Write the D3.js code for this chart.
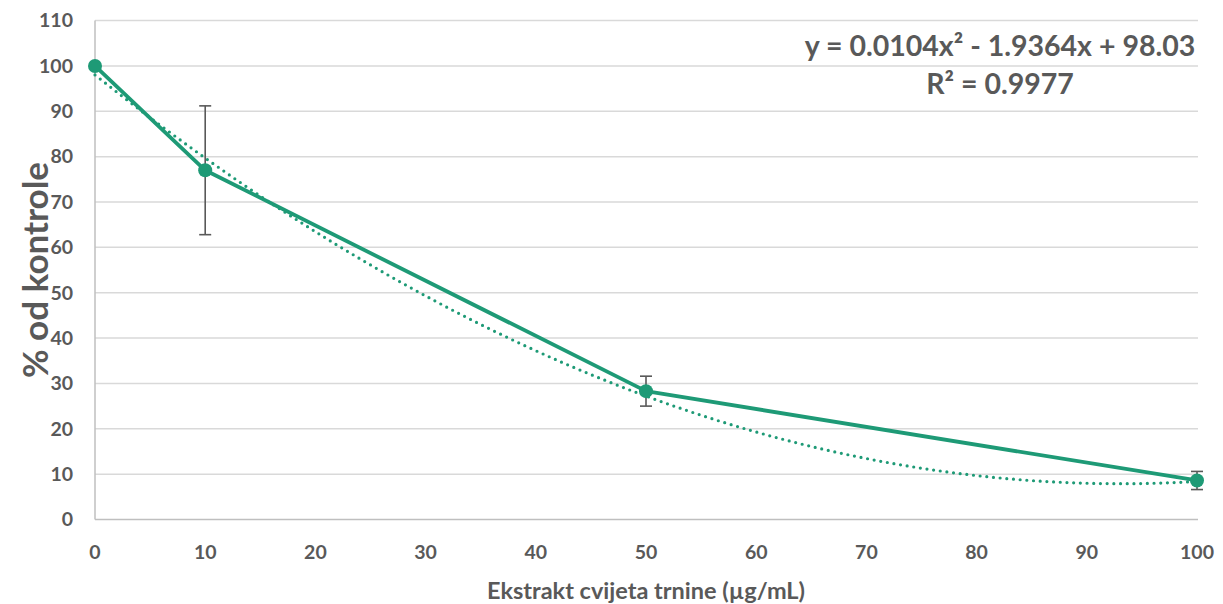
<!DOCTYPE html>
<html><head><meta charset="utf-8">
<script src="https://cdn.jsdelivr.net/npm/d3@7"></script>
<style>body{margin:0;background:#fff}svg{display:block}</style>
</head><body>
<svg id="c" width="1223" height="604"></svg>
<script>
const concentrations = [0, 10, 50, 100];
const percentOfControl = [100, 77.0, 28.3, 8.6];
const errorValues = [0, 14.2, 3.3, 2.0];
const xTicks = [0,10,20,30,40,50,60,70,80,90,100];
const yTicks = [0,10,20,30,40,50,60,70,80,90,100,110];
const trendCoefficients = [98.03, -1.9364, 0.0104]; // c0, c1, c2
const equationText = "y = 0.0104x² - 1.9364x + 98.03";
const r2Text = "R² = 0.9977";
const xTitle = "Ekstrakt cvijeta trnine (µg/mL)";
const yTitle = "% od kontrole";

const font = "Lato, 'Open Sans', sans-serif";
const green = "#1e9a76", grey = "#595959";
const svg = d3.select("#c");
const x = d3.scaleLinear().domain([0,100]).range([95,1197]);
const y = d3.scaleLinear().domain([0,110]).range([519.5,20.6]);

// grid
svg.append("g").selectAll("line").data(yTicks.filter(d=>d>0)).join("line")
  .attr("x1",x(0)).attr("x2",1198).attr("y1",d=>y(d)).attr("y2",d=>y(d))
  .attr("stroke","#d9d9d9").attr("stroke-width",1.5);
// axes lines
svg.append("line").attr("x1",x(0)).attr("x2",x(0)).attr("y1",y(110)).attr("y2",y(0)).attr("stroke","#bfbfbf").attr("stroke-width",1.5);
svg.append("line").attr("x1",x(0)).attr("x2",1198).attr("y1",y(0)).attr("y2",y(0)).attr("stroke","#bfbfbf").attr("stroke-width",1.5);

// tick labels
svg.append("g").selectAll("text").data(yTicks).join("text")
  .attr("x",73).attr("y",d=>y(d)).attr("dy","0.35em").attr("text-anchor","end")
  .attr("font-family",font).attr("font-weight","bold").attr("font-size",19.5).attr("fill",grey).text(d=>d);
svg.append("g").selectAll("text").data(xTicks).join("text")
  .attr("x",d=>x(d)).attr("y",552).attr("dy","0.35em").attr("text-anchor","middle")
  .attr("font-family",font).attr("font-weight","bold").attr("font-size",19.5).attr("fill",grey).text(d=>d);

// titles
svg.append("text").attr("x",646).attr("y",591).attr("dy","0.35em").attr("text-anchor","middle")
  .attr("font-family",font).attr("font-weight","bold").attr("font-size",23.5).attr("fill",grey).text(xTitle);
svg.append("text").attr("transform","translate(36,270) rotate(-90)").attr("dy","0.35em").attr("text-anchor","middle")
  .attr("font-family",font).attr("font-weight","bold").attr("font-size",35).attr("fill",grey).text(yTitle);

// trendline
const trendXs = d3.range(0,100.01,0.5);
const poly = v => trendCoefficients[0] + trendCoefficients[1]*v + trendCoefficients[2]*v*v;
svg.append("path").datum(trendXs)
  .attr("d", d3.line().x(d=>x(d)).y(d=>y(poly(d))))
  .attr("fill","none").attr("stroke",green).attr("stroke-width",3.2)
  .attr("stroke-linecap","round").attr("stroke-dasharray","0 6.7");

const pts = concentrations.map((c,i)=>({x:c,y:percentOfControl[i],e:errorValues[i]}));
// data line
svg.append("path").datum(pts).attr("d",d3.line().x(d=>x(d.x)).y(d=>y(d.y)))
  .attr("fill","none").attr("stroke",green).attr("stroke-width",3.8).attr("stroke-linejoin","round");

// error bars
const eb = svg.append("g").attr("stroke",grey).attr("stroke-width",1.6);
pts.filter(d=>d.e>0).forEach(d=>{
  eb.append("line").attr("x1",x(d.x)).attr("x2",x(d.x)).attr("y1",y(d.y+d.e)).attr("y2",y(d.y-d.e));
  eb.append("line").attr("x1",x(d.x)-6).attr("x2",x(d.x)+6).attr("y1",y(d.y+d.e)).attr("y2",y(d.y+d.e));
  eb.append("line").attr("x1",x(d.x)-6).attr("x2",x(d.x)+6).attr("y1",y(d.y-d.e)).attr("y2",y(d.y-d.e));
});

// markers
svg.append("g").selectAll("circle").data(pts).join("circle")
  .attr("cx",d=>x(d.x)).attr("cy",d=>y(d.y)).attr("r",7).attr("fill",green);

// equation
svg.append("text").attr("x",1000).attr("y",46).attr("dy","0.35em").attr("text-anchor","middle")
  .attr("font-family",font).attr("font-weight","bold").attr("font-size",28.5).attr("fill",grey).text(equationText);
svg.append("text").attr("x",1000).attr("y",84).attr("dy","0.35em").attr("text-anchor","middle")
  .attr("font-family",font).attr("font-weight","bold").attr("font-size",28.5).attr("fill",grey).text(r2Text);
</script>
</body></html>
